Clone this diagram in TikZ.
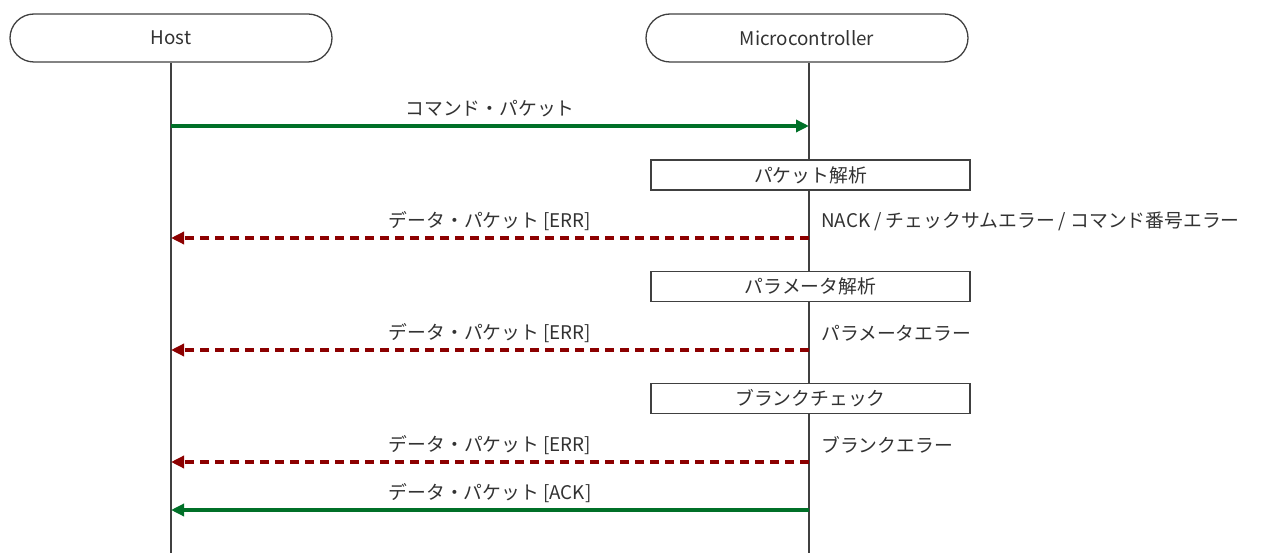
\documentclass[tikz,border=0pt]{standalone}
\usepackage{fontspec}
\setmainfont{Noto Sans CJK JP}
\usetikzlibrary{arrows.meta}
\definecolor{okgreen}{RGB}{0,112,40}
\definecolor{errred}{RGB}{140,0,0}
\definecolor{txt}{RGB}{50,50,50}
\begin{document}
\begin{tikzpicture}[x=1pt,y=-1pt,
  font=\fontsize{18.8}{22}\selectfont,
  actor/.style={draw=black!75,line width=1.3pt,rounded corners=24pt,minimum width=322pt,minimum height=48pt,inner sep=0pt,text=txt},
  procbox/.style={draw=black!75,line width=1.3pt,minimum width=319pt,minimum height=30pt,inner sep=0pt,text=txt},
  life/.style={draw=black!75,line width=1.3pt},
  okmsg/.style={draw=okgreen,line width=3.3pt,-{Triangle[length=13pt,width=12pt]}},
  errmsg/.style={draw=errred,line width=3.3pt,dash pattern=on 9pt off 6pt,-{Triangle[length=13pt,width=12pt]}},
  lbl/.style={text=txt,inner sep=0pt},
  note/.style={text=txt,inner sep=0pt,anchor=west}]
\useasboundingbox (0,0) rectangle (1261,553);
% actors
\node[actor] (host) at (171,38) {Host};
\node[actor] (mcu) at (807,38) {Microcontroller};
% lifelines
\coordinate (hb) at (171,553);
\coordinate (mb) at (809,553);
\draw[life] (host.south) -- (hb);
\draw[life] (mcu.south -| mb) -- (mb);
% message anchors
\coordinate (h1) at (171,126); \coordinate (m1) at (809,126);
\coordinate (h2) at (171,238); \coordinate (m2) at (809,238);
\coordinate (h3) at (171,350); \coordinate (m3) at (809,350);
\coordinate (h4) at (171,462); \coordinate (m4) at (809,462);
\coordinate (h5) at (171,510); \coordinate (m5) at (809,510);
% process boxes
\node[procbox,fill=white] (p1) at (810.5,175) {パケット解析};
\node[procbox,fill=white] (p2) at (810.5,286.5) {パラメータ解析};
\node[procbox,fill=white] (p3) at (810.5,398.5) {ブランクチェック};
% messages
\draw[okmsg] (h1) -- (m1);
\node[lbl] (l1) at (490,109) {コマンド・パケット};
\draw[errmsg] (m2) -- (h2);
\node[lbl] (l2) at (490,221) {データ・パケット [ERR]};
\node[note] (n2) at (821,221) {NACK / チェックサムエラー / コマンド番号エラー};
\draw[errmsg] (m3) -- (h3);
\node[lbl] (l3) at (490,333) {データ・パケット [ERR]};
\node[note] (n3) at (821,333) {パラメータエラー};
\draw[errmsg] (m4) -- (h4);
\node[lbl] (l4) at (490,445) {データ・パケット [ERR]};
\node[note] (n4) at (821,445) {ブランクエラー};
\draw[okmsg] (m5) -- (h5);
\node[lbl] (l5) at (490,493) {データ・パケット [ACK]};
\end{tikzpicture}
\end{document}
